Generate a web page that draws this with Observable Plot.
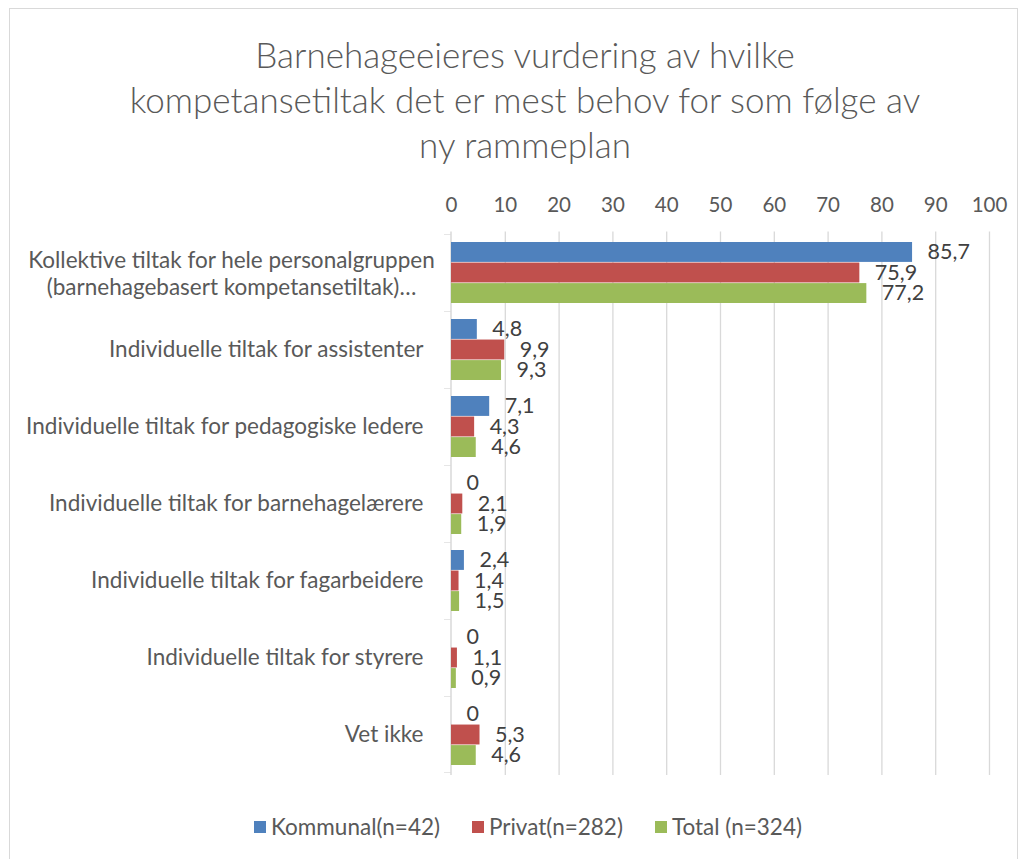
<!DOCTYPE html>
<html>
<head>
<meta charset="utf-8">
<script src="https://cdn.jsdelivr.net/npm/d3@7"></script>
<script src="https://cdn.jsdelivr.net/npm/@observablehq/plot@0.6"></script>
<style>
  html, body { margin: 0; padding: 0; background: #fff; }
  #wrap { position: relative; width: 1024px; height: 859px; overflow: hidden; font-family: Lato, "Open Sans", sans-serif; }
  #frame { position: absolute; left: 9px; top: 8px; width: 1009px; height: 900px; border: 1px solid #d9d9d9; box-sizing: border-box; }
  #title { position: absolute; left: 25px; width: 1000px; top: 32px; text-align: center; color: #595959; font-size: 35px; line-height: 45px; font-weight: 300; }
  #chart { position: absolute; left: 0; top: 170px; }
  #legend { position: absolute; left: 0; width: 1056px; top: 813px; display: flex; justify-content: center; gap: 32px; color: #595959; font-size: 22.5px; }
  #legend span.item { display: inline-flex; align-items: center; }
  #legend span.sw { display: inline-block; width: 12px; height: 12px; margin-right: 5px; }
</style>
</head>
<body>
<div id="wrap">
  <div id="frame"></div>
  <div id="title">Barnehageeieres vurdering av hvilke<br>kompetansetiltak det er mest behov for som følge av<br>ny rammeplan</div>
  <div id="chart"></div>
  <div id="legend"></div>
</div>
<script>
const categories = [
  "Kollektive tiltak for hele personalgruppen\n(barnehagebasert kompetansetiltak)…",
  "Individuelle tiltak for assistenter",
  "Individuelle tiltak for pedagogiske ledere",
  "Individuelle tiltak for barnehagelærere",
  "Individuelle tiltak for fagarbeidere",
  "Individuelle tiltak for styrere",
  "Vet ikke"
];
const kommunal = [85.7, 4.8, 7.1, 0, 2.4, 0, 0];
const privat   = [75.9, 9.9, 4.3, 2.1, 1.4, 1.1, 5.3];
const total    = [77.2, 9.3, 4.6, 1.9, 1.5, 0.9, 4.6];
const seriesNames = ["Kommunal(n=42)", "Privat(n=282)", "Total (n=324)"];
const seriesColors = ["#4f81bd", "#c0504d", "#9bbb59"];
const xTicks = [0, 10, 20, 30, 40, 50, 60, 70, 80, 90, 100];

const seriesValues = [kommunal, privat, total];
const rows = seriesValues.map(vals => categories.map((c, i) => ({category: c, value: vals[i]})));

const fmt = v => String(v).replace(".", ",");

const H = 620, MT = 61.5, MB = 15;
const plotH = H - MT - MB;
const band = plotH / categories.length;
const gap = 8;
const barH = (band - 2 * gap) / 3;

const FONT = "Lato, 'Open Sans', sans-serif";

const marks = [];
// gridlines
marks.push(Plot.ruleX(xTicks.slice(1), {stroke: "#d9d9d9", strokeWidth: 1.3}));
// axis line at 0
marks.push(Plot.ruleX([0], {stroke: "#d9d9d9", strokeWidth: 1.5, dx: -0.5}));
// boundary ticks on the category axis (top of every band, bottom of last)
marks.push(Plot.barX(categories, {y: d => d, x1: 0, x2: 0, insetLeft: -7, insetRight: 0, insetBottom: band - 1.3, fill: "#d9d9d9"}));
marks.push(Plot.barX(categories.slice(-1), {y: d => d, x1: 0, x2: 0, insetLeft: -7, insetRight: 0, insetTop: band - 1.3, fill: "#d9d9d9"}));

seriesValues.forEach((vals, s) => {
  const top = gap + s * barH;
  const bottom = band - top - barH;
  marks.push(Plot.barX(rows[s], {
    y: "category", x1: 0, x2: "value",
    insetTop: top, insetBottom: bottom,
    fill: seriesColors[s]
  }));
  marks.push(Plot.text(rows[s], {
    y: "category", x: "value", text: d => fmt(d.value),
    dy: (s - 1) * barH, dx: 15, textAnchor: "start",
    fill: "#404040", fontSize: 21.5, fontFamily: FONT
  }));
});

// x axis on top
marks.push(Plot.axisX(xTicks, {anchor: "top", tickSize: 0, tickPadding: 20, fontSize: 20.5, fill: "#595959", fontFamily: FONT, label: null}));
// category labels
marks.push(Plot.axisY(categories.slice(1), {anchor: "left", tickSize: 0, tickPadding: 28, fontSize: 22.5, fill: "#595959", fontFamily: FONT, label: null}));
marks.push(Plot.axisY(categories.slice(0, 1), {anchor: "left", tickSize: 0, tickPadding: 220, textAnchor: "middle", lineHeight: 1.2, fontSize: 22.5, fill: "#595959", fontFamily: FONT, label: null}));

const chart = Plot.plot({
  width: 1024,
  height: H,
  marginTop: MT,
  marginBottom: MB,
  marginLeft: 451,
  marginRight: 35,
  style: {fontFamily: FONT, fontSize: "20px", color: "#595959", background: "transparent", overflow: "visible"},
  x: {domain: [0, 100], axis: null},
  y: {domain: categories, padding: 0, axis: null},
  marks
});
document.getElementById("chart").appendChild(chart);

const legend = document.getElementById("legend");
seriesNames.forEach((n, i) => {
  const item = document.createElement("span");
  item.className = "item";
  const sw = document.createElement("span");
  sw.className = "sw";
  sw.style.background = seriesColors[i];
  item.appendChild(sw);
  item.appendChild(document.createTextNode(n));
  legend.appendChild(item);
});
</script>
</body>
</html>
